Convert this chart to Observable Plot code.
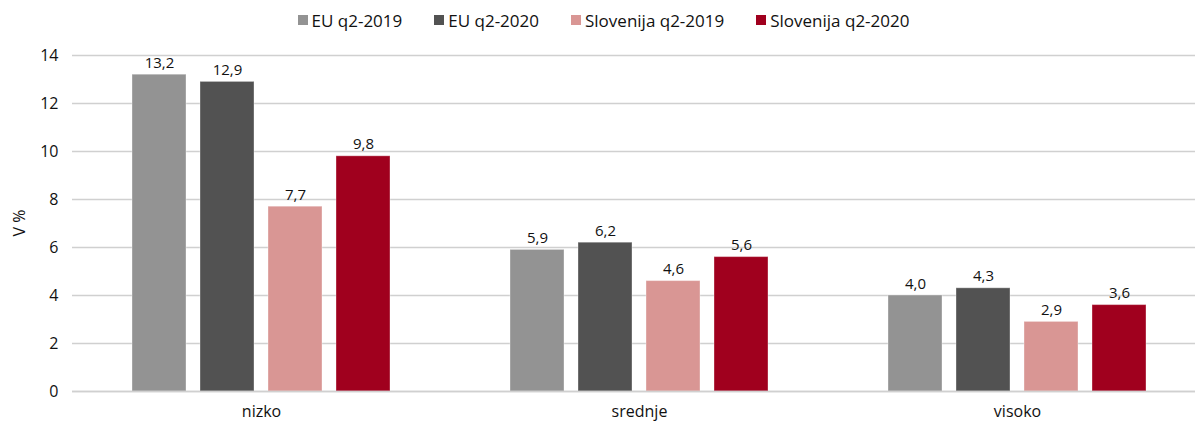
<!DOCTYPE html>
<html>
<head>
<meta charset="utf-8">
<script src="https://cdn.jsdelivr.net/npm/d3@7"></script>
<script src="https://cdn.jsdelivr.net/npm/@observablehq/plot@0.6"></script>
<style>
  html, body { margin: 0; padding: 0; background: white; overflow: hidden; }
  body { width: 1195px; height: 421px; font-family: "Open Sans", sans-serif; position: relative; }
  #legend { height: 40px; display: flex; justify-content: center; align-items: center; gap: 32px; font-size: 17px; color: #111; padding-left: 12px; box-sizing: border-box; }
  #legend .item { display: flex; align-items: center; gap: 4px; }
  #legend .sw { width: 10px; height: 10px; display: inline-block; }
  #ylabel { position: absolute; left: 19px; top: 223px; transform: translate(-50%, -50%) rotate(-90deg); font-size: 16px; color: #111; white-space: nowrap; }
</style>
</head>
<body>
<div id="legend"></div>
<div id="chart"></div>
<div id="ylabel">V %</div>
<script>
const groups = ["nizko", "srednje", "visoko"];
const series = ["EU q2-2019", "EU q2-2020", "Slovenija q2-2019", "Slovenija q2-2020"];
const colors = ["#939393", "#525252", "#d99694", "#a0001e"];
const values = {
  "EU q2-2019":        [13.2, 5.9, 4.0],
  "EU q2-2020":        [12.9, 6.2, 4.3],
  "Slovenija q2-2019": [7.7, 4.6, 2.9],
  "Slovenija q2-2020": [9.8, 5.6, 3.6]
};
const yTicks = [0, 2, 4, 6, 8, 10, 12, 14];

const data = [];
for (const s of series) groups.forEach((g, i) => data.push({group: g, series: s, value: values[s][i]}));

const fmt = v => d3.format(".1f")(v).replace(".", ",");

const legend = document.getElementById("legend");
series.forEach((s, i) => {
  const it = document.createElement("div");
  it.className = "item";
  it.innerHTML = `<span class="sw" style="background:${colors[i]}"></span><span>${s}</span>`;
  legend.appendChild(it);
});

const chart = Plot.plot({
  width: 1195,
  height: 381,
  marginTop: 15,
  marginBottom: 30,
  marginLeft: 72,
  marginRight: 0,
  style: {fontFamily: "Open Sans, sans-serif", fontSize: "16px", color: "#111", overflow: "hidden"},
  fx: {domain: groups, range: [72, 1206], padding: 0, label: null, tickSize: 0, tickPadding: 14, fontSize: 16},
  x: {domain: series, paddingInner: 0.21, paddingOuter: 0.845, axis: null},
  y: {domain: [0, 14], ticks: yTicks, label: null, tickSize: 0, tickPadding: 14},
  color: {domain: series, range: colors},
  marks: [
    Plot.gridY(yTicks, {stroke: "#d0d0d0", strokeOpacity: 1, strokeWidth: 1.5}),
    Plot.ruleX([{g: "nizko"}], {fx: "g", frameAnchor: "left", stroke: "#d0d0d0", strokeWidth: 1.5}),
    Plot.barY(data, {fx: "group", x: "series", y: "value", fill: "series", stroke: "white", strokeOpacity: 0.35, strokeWidth: 1}),
    Plot.text(data, {fx: "group", x: "series", y: "value", text: d => fmt(d.value), lineAnchor: "bottom", dy: -7, fontSize: 15, fill: "#111"}),
    Plot.axisY({ticks: yTicks, tickSize: 0, tickPadding: 14, label: null, fontSize: 16}),
    Plot.ruleY([0], {stroke: "#d0d0d0", strokeWidth: 1.5})
  ]
});
document.getElementById("chart").appendChild(chart);
</script>
</body>
</html>
